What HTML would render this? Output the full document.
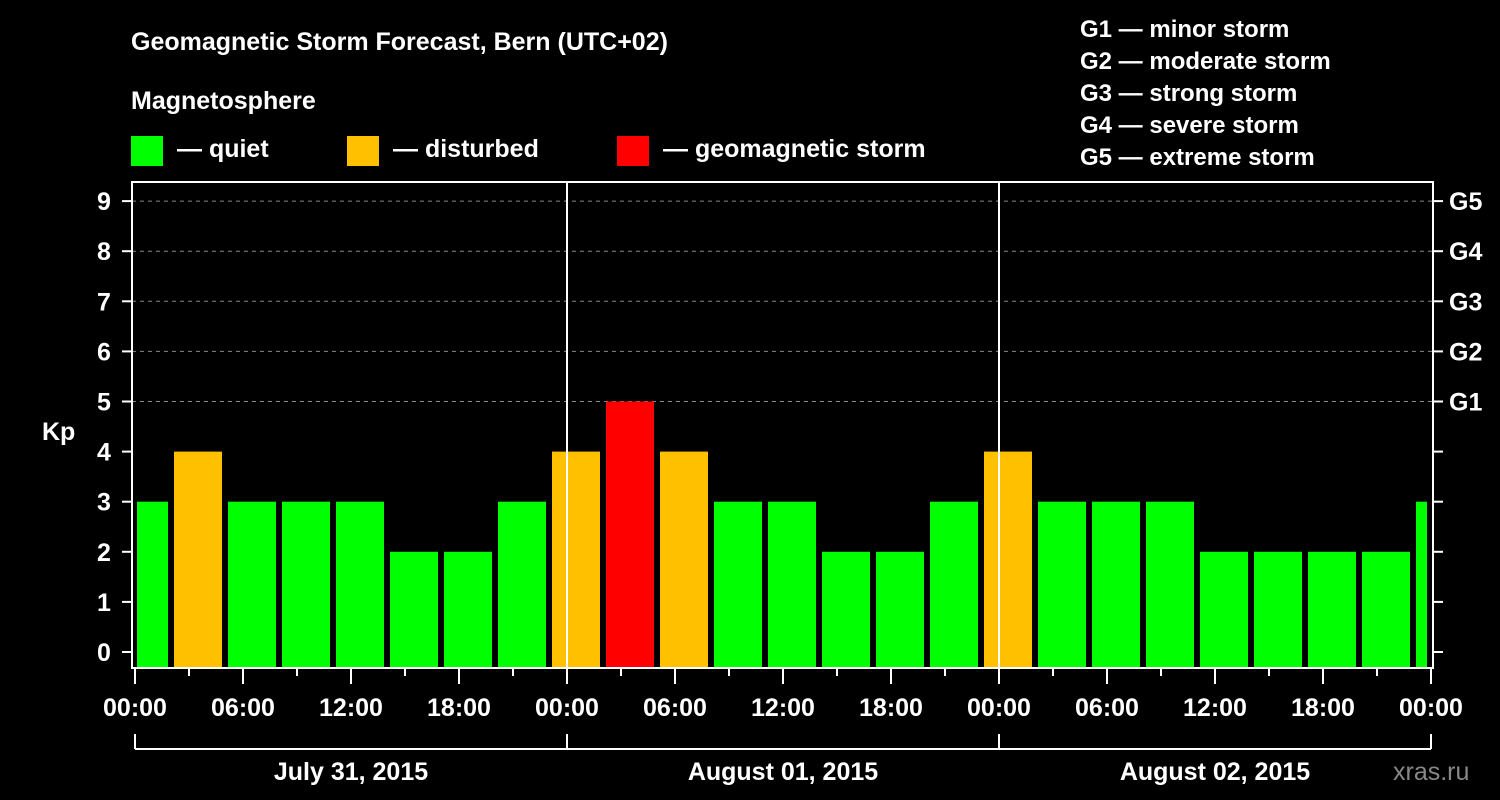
<!DOCTYPE html>
<html><head><meta charset="utf-8"><style>
body{margin:0;background:#000;}
svg{display:block;font-family:"Liberation Sans",Arial,sans-serif;font-weight:bold;}
</style></head><body>
<svg id="chart" width="1500" height="800" viewBox="0 0 1500 800">
<rect width="1500" height="800" fill="#000"/>
<text x="131" y="50" fill="#fff" font-size="25">Geomagnetic Storm Forecast, Bern (UTC+02)</text>
<text x="131" y="109" fill="#fff" font-size="25">Magnetosphere</text>
<g>
<rect x="131" y="136" width="32" height="30" fill="#00ff00"/>
<text x="177" y="157" fill="#fff" font-size="25">— quiet</text>
<rect x="347" y="136" width="32" height="30" fill="#ffc000"/>
<text x="393" y="157" fill="#fff" font-size="25">— disturbed</text>
<rect x="617" y="136" width="32" height="30" fill="#ff0000"/>
<text x="663" y="157" fill="#fff" font-size="25">— geomagnetic storm</text>
</g>
<g fill="#fff" font-size="24">
<text x="1080" y="37">G1 — minor storm</text>
<text x="1080" y="69">G2 — moderate storm</text>
<text x="1080" y="101">G3 — strong storm</text>
<text x="1080" y="133">G4 — severe storm</text>
<text x="1080" y="165">G5 — extreme storm</text>
</g>
<g id="grid"></g>
<g id="bars"></g>
<g id="axes"></g>
<text x="42" y="440" fill="#fff" font-size="25">Kp</text>
<text x="1393" y="780" fill="#888" font-size="25" font-weight="normal">xras.ru</text>
</svg>
<script>
const kpValues = [3,4,3,3,3,2,2,3, 4,5,4,3,3,2,2,3, 4,3,3,3,2,2,2,2, 3];
const slotStartHours = [-1,2,5,8,11,14,17,20,23,26,29,32,35,38,41,44,47,50,53,56,59,62,65,68,71];
const yTicks = [0,1,2,3,4,5,6,7,8,9];
const gLabels = ["G1","G2","G3","G4","G5"];
const gLevels = [5,6,7,8,9];
const xTickLabels = ["00:00","06:00","12:00","18:00","00:00","06:00","12:00","18:00","00:00","06:00","12:00","18:00","00:00"];
const dayLabels = ["July 31, 2015","August 01, 2015","August 02, 2015"];

const NS="http://www.w3.org/2000/svg";
const L=132, R=1433, T=182, B=668, X0=135, PXH=18;
const y = v => 652 - v*50.1;
const x = h => X0 + h*PXH;
function mk(tag, attrs, parent){const e=document.createElementNS(NS,tag);for(const k in attrs)e.setAttribute(k,attrs[k]);parent.appendChild(e);return e;}
const grid=document.getElementById('grid'), bars=document.getElementById('bars'), axes=document.getElementById('axes');

yTicks.forEach(v=>{ if(v>=5){const g=mk('line',{x1:L,x2:R,y1:y(v),y2:y(v),stroke:'#888','stroke-dasharray':'4,4','stroke-width':1},grid);

}});

kpValues.forEach((v,i)=>{
  const h=slotStartHours[i];
  let x1=Math.max(x(h)+3,137), x2=Math.min(x(h+3)-3,1427);
  const col = v>=5?'#ff0000':(v>=4?'#ffc000':'#00ff00');
  const r=mk('rect',{x:x1,y:y(v),width:x2-x1,height:B-y(v),fill:col},bars);
  
  
});

const frame=mk('rect',{x:L,y:T,width:R-L,height:B-T,fill:'none',stroke:'#fff','stroke-width':2},axes);


[1,2].forEach(d=>{const l=mk('line',{x1:x(24*d),x2:x(24*d),y1:T,y2:B,stroke:'#fff','stroke-width':2},axes);

});

yTicks.forEach(v=>{
  mk('line',{x1:122,x2:L,y1:y(v),y2:y(v),stroke:'#fff','stroke-width':2},axes);
  mk('line',{x1:R,x2:R+10,y1:y(v),y2:y(v),stroke:'#fff','stroke-width':2},axes);
  const t=mk('text',{x:104,y:y(v)+9,fill:'#fff','font-size':25,'text-anchor':'middle'},axes);
  t.textContent=v;
  
  
});
gLabels.forEach((g,i)=>{
  const t=mk('text',{x:1449,y:y(gLevels[i])+9,fill:'#fff','font-size':25},axes);
  t.textContent=g;
  
  
});
for(let h=0;h<=72;h+=3){
  const major=h%6===0;
  mk('line',{x1:x(h),x2:x(h),y1:B,y2:B+(major?16:8),stroke:'#fff','stroke-width':2},axes);
}
xTickLabels.forEach((s,i)=>{
  const t=mk('text',{x:x(i*6),y:716,fill:'#fff','font-size':25,'text-anchor':'middle'},axes);
  t.textContent=s;
  
  
});
mk('line',{x1:x(0),x2:x(72),y1:749,y2:749,stroke:'#fff','stroke-width':2},axes);
[0,1,2,3].forEach(d=>mk('line',{x1:x(24*d),x2:x(24*d),y1:734,y2:749,stroke:'#fff','stroke-width':2},axes));
dayLabels.forEach((s,i)=>{
  const t=mk('text',{x:x(24*i+12),y:780,fill:'#fff','font-size':25,'text-anchor':'middle'},axes);
  t.textContent=s;
  
  
});
</script>
</body></html>
